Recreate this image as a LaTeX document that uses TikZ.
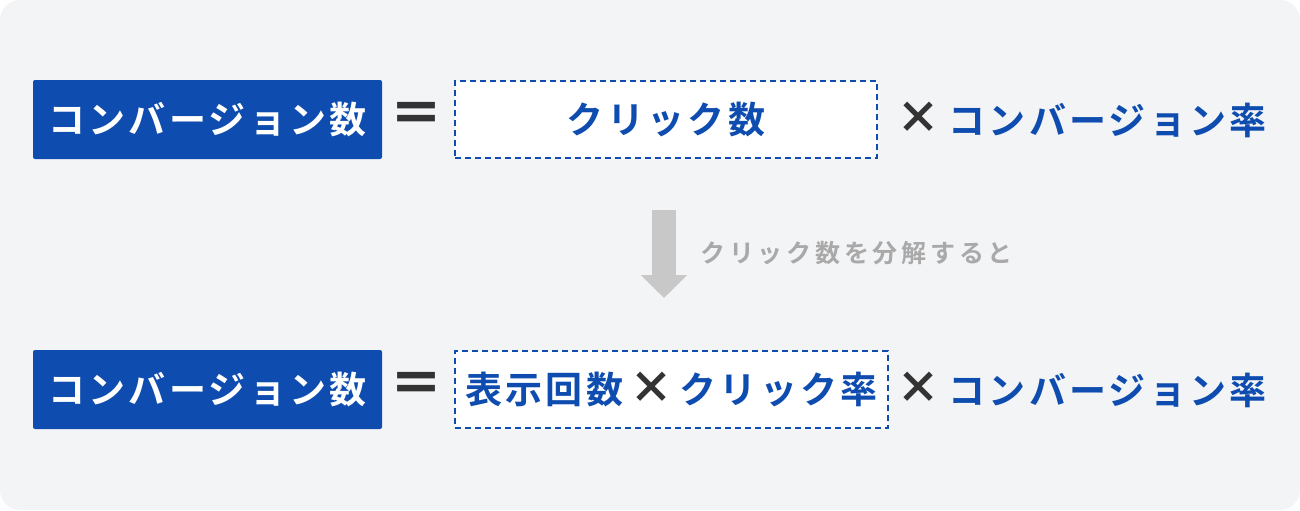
\documentclass[tikz,border=0pt]{standalone}
\usepackage{fontspec}
\setmainfont{Noto Sans CJK JP}[BoldFont={Noto Sans CJK JP Bold}]
\newfontfamily\jpbig[LetterSpace=9]{Noto Sans CJK JP Bold}
\newfontfamily\jpsmall[LetterSpace=15]{Noto Sans CJK JP Bold}
\newfontfamily\jpsign{Noto Sans CJK JP Black}
\usetikzlibrary{arrows.meta}
\definecolor{cvblue}{HTML}{0E4DAF}
\definecolor{cvdark}{HTML}{333333}
\definecolor{cvgray}{HTML}{C8C8C8}
\definecolor{cvlabel}{HTML}{A9A9A9}
\definecolor{cvback}{HTML}{F3F4F6}

\begin{document}
\begin{tikzpicture}
[x=0.5pt,y=-0.5pt,
head/.style={rectangle,fill=cvblue,text=white,rounded corners=1pt,inner sep=0pt,
  minimum width=174.5pt,minimum height=39.5pt,font=\jpbig\fontsize{18.5}{20}\selectfont},
dbox/.style={rectangle,draw=cvblue,fill=white,line width=1pt,dash pattern=on 3pt off 2pt,
  inner sep=0pt,minimum height=38.5pt,text=cvblue,font=\jpbig\fontsize{18.5}{20}\selectfont},
oper/.style={inner sep=0pt,text=cvdark,font=\jpsign\fontsize{22}{24}\selectfont},
term/.style={inner sep=0pt,text=cvblue,font=\jpbig\fontsize{18.5}{20}\selectfont},
note/.style={inner sep=0pt,text=cvlabel,font=\jpsmall\fontsize{12.5}{14}\selectfont}]

\fill[cvback,rounded corners=10pt] (0,0) rectangle (1300,510);
\useasboundingbox (0,0) rectangle (1300,510);

% top row
\node at (416,118)     [oper,font=\jpsign\fontsize{27}{30}\selectfont] (eqtop) {＝};
\node at (207.5,119.5) [head] (cvtop)   {コンバージョン数};
\node at (666,119.5)   [dbox,minimum width=211pt] (clicks) {クリック数};
\node at (918,118)     [oper] (multop)  {×};
\node at (948,120)     [term,anchor=west] (ratetop) {コンバージョン率};

% arrow
\coordinate (arrtop) at (664,210);
\coordinate (arrbot) at (664,298);
\draw [-{Triangle[width=22.5pt,length=11.5pt]},draw=cvgray,fill=cvgray,line width=12pt] (arrtop) to (arrbot);
\node at (700,253) [note,anchor=west] (split) {クリック数を分解すると};

% bottom row
\node at (207.5,389.5) [head] (cvbot)   {コンバージョン数};
\node at (416,388)     [oper,font=\jpsign\fontsize{27}{30}\selectfont] (eqbot) {＝};
\node at (671.5,389)   [dbox,minimum width=216.5pt] (parts) {表示回数\,{\jpsign\fontsize{22}{24}\selectfont\textcolor{cvdark}{×}}\,クリック率};
\node at (918,388)     [oper] (multbot) {×};
\node at (948,390)     [term,anchor=west] (ratebot) {コンバージョン率};
\end{tikzpicture}
\end{document}
